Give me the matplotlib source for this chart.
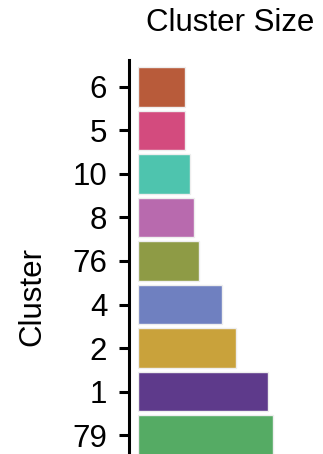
import matplotlib
matplotlib.use("Agg")
import matplotlib.pyplot as plt

plt.rcParams['font.family'] = ['Liberation Sans', 'DejaVu Sans']

# Cluster sizes, listed top to bottom
clusters = ["6", "5", "10", "8", "76", "4", "2", "1", "79"]
sizes = [47, 47, 52, 56, 61, 84, 98, 130, 135]
colors = ["#B85B3A", "#D34B7E", "#4EC4AE", "#B86AAE", "#8E9B45",
          "#6F80C0", "#C9A23B", "#5E3A8B", "#55AB64"]

fig = plt.figure(figsize=(3.23, 4.54), dpi=100)
ax = fig.add_axes([138 / 323, -8 / 454, 184 / 323, 402 / 454])

for s in ["top", "right", "bottom"]:
    ax.spines[s].set_visible(False)
ax.spines["left"].set_position(("outward", 6.5))
ax.spines["left"].set_linewidth(2.2)

n = len(clusters)
ypos = [n - 1 - i for i in range(n)]
ax.barh(ypos, sizes, height=0.9, color=colors, edgecolor="#eeeeee", linewidth=1.0)

ax.set_yticks(ypos)
ax.set_yticklabels(clusters)
ax.set_ylim(-0.62, n - 1 + 0.62)
ax.set_xlim(0, 184)
ax.set_xticks([])
ax.tick_params(axis="y", length=7.2, width=2.2, pad=8.5, labelsize=22.5)

fig.text(32 / 323, 1 - 297 / 454, "Cluster", fontsize=22.5, rotation=90,
         ha="center", va="center")
fig.text(230 / 323, 1 - 23 / 454, "Cluster Size", fontsize=22.5, ha="center", va="center")

fig.savefig("out.png", dpi=100)
